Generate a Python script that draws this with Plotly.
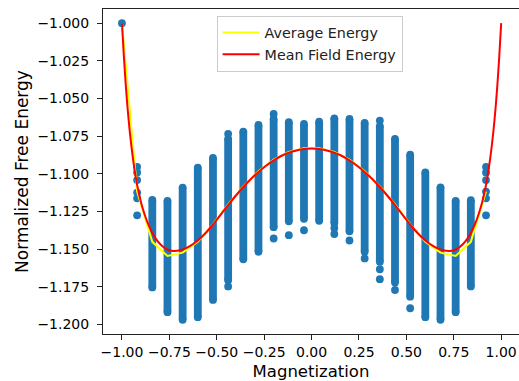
import plotly.graph_objects as go

# Magnetization columns: main band of sampled free energies (top, bottom)
band_m = [-0.84, -0.76, -0.68, -0.60, -0.52, -0.44, -0.36, -0.28, -0.20, -0.12, -0.04,
          0.04, 0.12, 0.20, 0.28, 0.36, 0.44, 0.52, 0.60, 0.68, 0.76, 0.84]
band_top = [-1.1174, -1.1180, -1.1092, -1.0959, -1.0895, -1.0768, -1.0720, -1.0676, -1.0636, -1.0658, -1.0669,
            -1.0654, -1.0632, -1.0636, -1.0662, -1.0684, -1.0768, -1.0873, -1.0991, -1.1090, -1.1180, -1.1176]
band_bottom = [-1.1755, -1.1919, -1.1970, -1.1952, -1.1838, -1.1707, -1.1568, -1.1518, -1.1355, -1.1316, -1.1299,
               -1.1312, -1.1327, -1.1382, -1.1518, -1.1584, -1.1722, -1.1816, -1.1952, -1.1970, -1.1919, -1.1748]

# Isolated samples outside the bands
single_m = [-1.00,
            -0.92, -0.92, -0.92, -0.92, -0.92, -0.92,
            -0.44, -0.44, -0.20, -0.20, -0.12, -0.04,
            0.12, 0.12, 0.20, 0.28, 0.36, 0.36, 0.36, 0.44, 0.52,
            0.92, 0.92, 0.92, 0.92, 0.92, 0.92]
single_f = [-1.0000,
            -1.0954, -1.0991, -1.1042, -1.1125, -1.1163, -1.1276,
            -1.0735, -1.1748, -1.0603, -1.1430, -1.1408, -1.1375,
            -1.1360, -1.1400, -1.1443, -1.1562, -1.0647, -1.1634, -1.1700, -1.1772, -1.1893,
            -1.0954, -1.0991, -1.1042, -1.1118, -1.1163, -1.1276]

# Average energy per magnetization value
avg_m = [-1.00, -0.92, -0.84, -0.76, -0.68, -0.60, -0.52, -0.44, -0.36, -0.28, -0.20, -0.12, -0.04,
         0.04, 0.12, 0.20, 0.28, 0.36, 0.44, 0.52, 0.60, 0.68, 0.76, 0.84, 0.92]
avg_f = [-1.0000, -1.1118, -1.1452, -1.1546, -1.1524, -1.1452, -1.1334, -1.1204, -1.1084, -1.0984, -1.0906,
         -1.0855, -1.0831,
         -1.0831, -1.0855, -1.0906, -1.0984, -1.1084, -1.1204, -1.1334, -1.1452, -1.1524, -1.1546,
         -1.1452, -1.1118]

# Mean field free energy curve
mf_m = [-1.00, -0.99, -0.98, -0.97, -0.96, -0.95, -0.94, -0.93, -0.92, -0.90, -0.88, -0.86, -0.84,
        -0.82, -0.80, -0.78, -0.76, -0.74, -0.72, -0.70, -0.68, -0.64, -0.60, -0.56, -0.52, -0.48,
        -0.44, -0.40, -0.36, -0.32, -0.28, -0.24, -0.20, -0.16, -0.12, -0.08, -0.04, 0.00,
        0.04, 0.08, 0.12, 0.16, 0.20, 0.24, 0.28, 0.32, 0.36, 0.40, 0.44, 0.48, 0.52, 0.56,
        0.60, 0.64, 0.68, 0.70, 0.72, 0.74, 0.76, 0.78, 0.80, 0.82, 0.84, 0.86, 0.88, 0.90,
        0.92, 0.93, 0.94, 0.95, 0.96, 0.97, 0.98, 0.99, 1.00]
mf_f = [-1.0000, -1.0220, -1.0410, -1.0570, -1.0705, -1.0820, -1.0918, -1.1002, -1.1075, -1.1188,
        -1.1272, -1.1340, -1.1393, -1.1434, -1.1465, -1.1488, -1.1503, -1.1511, -1.1513, -1.1510,
        -1.1503, -1.1479, -1.1443, -1.1395, -1.1337, -1.1273, -1.1208, -1.1146, -1.1088, -1.1035,
        -1.0988, -1.0947, -1.0911, -1.0882, -1.0860, -1.0845, -1.0836, -1.0833,
        -1.0836, -1.0845, -1.0860, -1.0882, -1.0911, -1.0947, -1.0988, -1.1035, -1.1088, -1.1146,
        -1.1208, -1.1273, -1.1337, -1.1395, -1.1443, -1.1479, -1.1503, -1.1510, -1.1513, -1.1511,
        -1.1503, -1.1488, -1.1465, -1.1434, -1.1393, -1.1340, -1.1272, -1.1188, -1.1075, -1.1002,
        -1.0918, -1.0820, -1.0705, -1.0570, -1.0410, -1.0220, -1.0000]

x_ticks = [-1.00, -0.75, -0.50, -0.25, 0.00, 0.25, 0.50, 0.75, 1.00]
y_ticks = [-1.200, -1.175, -1.150, -1.125, -1.100, -1.075, -1.050, -1.025, -1.000]

BLUE = "#1f77b4"
DOT = 7.8

band_x, band_y = [], []
for m, top, bottom in zip(band_m, band_top, band_bottom):
    band_x += [m, m, None]
    band_y += [top, bottom, None]

fig = go.Figure()
fig.add_trace(go.Scatter(
    x=band_x, y=band_y, mode="lines+markers",
    line=dict(color=BLUE, width=DOT),
    marker=dict(color=BLUE, size=DOT, line=dict(width=0)),
    connectgaps=False, showlegend=False, hoverinfo="skip"))
fig.add_trace(go.Scatter(
    x=single_m, y=single_f, mode="markers",
    marker=dict(color=BLUE, size=DOT, line=dict(width=0)),
    showlegend=False))
fig.add_trace(go.Scatter(
    x=avg_m, y=avg_f, mode="lines", name="Average Energy",
    line=dict(color="#ffff00", width=2)))
fig.add_trace(go.Scatter(
    x=mf_m, y=mf_f, mode="lines", name="Mean Field Energy",
    line=dict(color="#ff0000", width=2, shape="spline", smoothing=0.5)))

font = "DejaVu Sans, sans-serif"
fig.update_layout(
    width=519, height=381,
    margin=dict(l=103, r=0, t=9, b=44),
    plot_bgcolor="white", paper_bgcolor="white",
    font=dict(family=font, color="black", size=14),
    legend=dict(
        x=0.273, y=0.979, xanchor="left", yanchor="top",
        bgcolor="rgba(255,255,255,0.8)", bordercolor="#cccccc", borderwidth=1,
        font=dict(size=14.3, family=font, color="#222222"),
        itemwidth=37, tracegroupgap=0),
    xaxis=dict(
        range=[-1.1, 1.094], tickvals=x_ticks, tickformat=".2f",
        showgrid=False, zeroline=False, showline=True, linecolor="#222222", linewidth=1,
        mirror=True, ticks="outside", ticklen=5, tickwidth=1, tickcolor="#222222",
        ticklabelstandoff=0,
        title=dict(text="Magnetization", font=dict(size=16.5), standoff=10)),
    yaxis=dict(
        range=[-1.2064, -0.9906], tickvals=y_ticks, tickformat=".3f",
        showgrid=False, zeroline=False, showline=True, linecolor="#222222", linewidth=1,
        ticks="outside", ticklen=5, tickwidth=1, tickcolor="#222222",
        ticklabelstandoff=5,
        title=dict(text="Normalized Free Energy", font=dict(size=17), standoff=4)),
)

fig.write_html("out.html")
